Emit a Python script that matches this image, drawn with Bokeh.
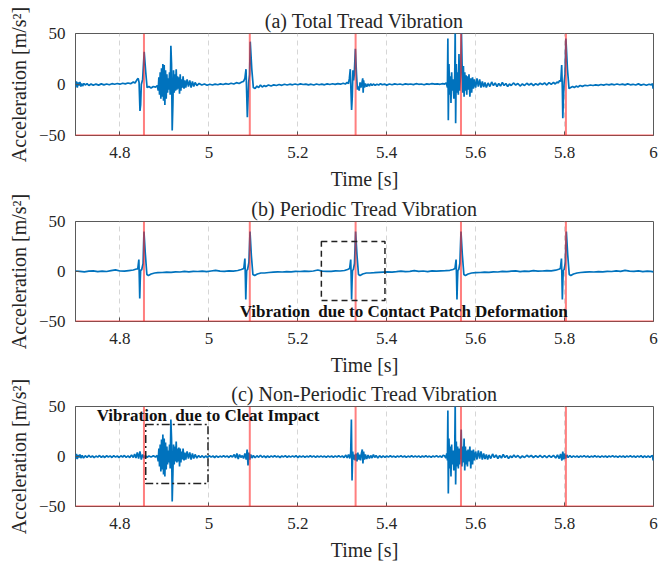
from bokeh.plotting import figure
from bokeh.models import (ColumnDataSource, FixedTicker, CustomJSTickFormatter, Span,
                          BoxAnnotation, Label, Range1d)
from bokeh.layouts import column
from bokeh.embed import file_html
from bokeh.resources import INLINE

# ---------------- data ----------------
titles = ["(a) Total Tread Vibration", "(b) Periodic Tread Vibration",
          "(c) Non-Periodic Tread Vibration"]
x_ticks = [4.8, 5.0, 5.2, 5.4, 5.6, 5.8, 6.0]
y_ticks = [-50, 0, 50]
contact_times = [4.854, 5.092, 5.330, 5.567, 5.803]

# (time [s], acceleration [m/s^2])
trace_total = [
    (4.700, -2), (4.702, 3), (4.704, -3), (4.706, 2), (4.708, -1), (4.710, 2.5), (4.712, -2),
    (4.714, 1), (4.716, -1.5), (4.719, 1), (4.722, -0.5), (4.726, 0.8), (4.730, -1), (4.735, 0.5),
    (4.740, -0.8), (4.746, 0.4), (4.752, -0.6), (4.758, 0.6), (4.764, -0.4), (4.770, 0.5),
    (4.776, -0.3), (4.782, 0.8), (4.788, 0.2), (4.794, 1.0), (4.800, 0.3), (4.806, 1.2),
    (4.812, 0.6), (4.818, 1.5), (4.824, 0.8), (4.830, 2.5), (4.834, 1.5), (4.838, 4.5),
    (4.841, 6), (4.843, 2), (4.845, -26), (4.8465, -20), (4.848, 0), (4.851, 5), (4.8545, 32),
    (4.858, 12), (4.861, -3), (4.865, -2), (4.870, -3.5), (4.875, -2), (4.880, -2.5), (4.884, -1),
    (4.886, -6), (4.8875, 7), (4.889, -10), (4.8905, 12), (4.892, -14), (4.8935, 16), (4.895, -12),
    (4.8965, 20), (4.898, -16), (4.8995, 19), (4.901, -20), (4.9025, 14), (4.904, -14),
    (4.9055, 10), (4.907, -8), (4.9085, 6), (4.910, -5), (4.9115, 12), (4.913, -10), (4.9145, 38),
    (4.916, 20), (4.9175, -45), (4.919, -20), (4.9205, 14), (4.922, -8), (4.9235, 10), (4.925, -6),
    (4.9265, 15), (4.928, -5), (4.9295, 8), (4.931, -4), (4.9325, 7), (4.934, -9), (4.9355, 10),
    (4.937, -6), (4.9385, 5), (4.940, -3), (4.942, 8), (4.944, -4), (4.946, 4), (4.948, -3),
    (4.951, 5), (4.954, -2), (4.957, 4), (4.960, -3), (4.963, 3), (4.966, -2), (4.969, 2),
    (4.973, -1), (4.978, 1), (4.984, -0.5), (4.990, 0.5), (4.996, -0.8), (5.002, 0.2),
    (5.008, -0.5), (5.014, 0.4), (5.020, -0.2), (5.026, 0.6), (5.032, 0), (5.038, 0.8),
    (5.044, 0.2), (5.050, 1.2), (5.056, 0.5), (5.062, 1.8), (5.068, 1.0), (5.074, 2.5),
    (5.078, 3), (5.081, 6), (5.0835, 15), (5.085, -8), (5.0865, -32), (5.088, -15), (5.0895, 2),
    (5.0915, 10), (5.093, 42), (5.0965, 15), (5.100, -3), (5.104, -4), (5.108, -1.5), (5.112, -3),
    (5.116, -0.5), (5.120, -2.5), (5.124, -1), (5.128, -2), (5.134, -0.5), (5.140, -1.5),
    (5.146, -0.3), (5.152, -1), (5.158, 0), (5.164, -0.8), (5.170, 0.2), (5.176, -0.5),
    (5.182, 0.3), (5.188, -0.3), (5.194, 0.5), (5.200, -0.2), (5.206, 0.6), (5.212, 0),
    (5.218, 0.4), (5.224, -0.4), (5.230, 0.3), (5.236, -0.5), (5.242, 0.5), (5.248, -0.2),
    (5.254, 0.4), (5.260, -0.3), (5.266, 0.6), (5.272, 0), (5.278, 0.7), (5.284, 0.1),
    (5.290, 0.9), (5.296, 0.3), (5.302, 1.2), (5.307, 0.5), (5.311, 2), (5.314, 1), (5.316, 6),
    (5.318, 15), (5.3195, -5), (5.321, -25), (5.3225, -12), (5.324, 14), (5.3255, 4), (5.327, 10),
    (5.3295, 35), (5.332, 10), (5.334, -5), (5.336, -2), (5.338, -6), (5.340, 2), (5.342, -3),
    (5.344, 1), (5.346, 6), (5.347, -8), (5.348, 4), (5.350, -3), (5.352, 1), (5.355, -2),
    (5.358, 0.5), (5.361, -1.5), (5.364, 0.8), (5.367, -1), (5.370, 0.5), (5.374, -0.8),
    (5.378, 0.3), (5.382, -0.5), (5.386, 0.8), (5.390, -0.3), (5.395, 0.4), (5.400, -0.6),
    (5.406, 0.5), (5.412, -0.2), (5.418, 0.6), (5.424, 0), (5.430, 0.5), (5.436, -0.2),
    (5.442, 0.6), (5.448, 0.1), (5.454, 0.5), (5.460, -0.1), (5.466, 0.8), (5.472, 0.2),
    (5.478, 0.5), (5.484, -0.2), (5.490, 0.6), (5.496, 0.2), (5.502, 0.9), (5.508, 0.3),
    (5.514, 0.6), (5.520, 0.2), (5.526, 0.8), (5.530, 0.4), (5.534, 1.5), (5.5365, -3),
    (5.5375, 45), (5.5385, -35), (5.540, 20), (5.5415, -10), (5.543, 8), (5.5445, -18),
    (5.546, 12), (5.5475, -6), (5.549, 5), (5.551, -14), (5.553, 10), (5.554, 55), (5.555, -38),
    (5.5565, 20), (5.558, -8), (5.5595, 12), (5.561, -10), (5.5625, 30), (5.564, -6), (5.566, 10),
    (5.568, 52), (5.5695, 20), (5.571, -8), (5.5725, 18), (5.574, -12), (5.5755, 12), (5.577, -6),
    (5.5785, 9), (5.580, -10), (5.5815, 8), (5.583, -5), (5.585, 10), (5.587, -12), (5.589, 6),
    (5.591, -8), (5.593, 7), (5.595, -4), (5.597, 5), (5.600, -3), (5.603, 6), (5.606, -2),
    (5.609, 5), (5.612, -3), (5.615, 3), (5.618, -2.5), (5.621, 2), (5.624, -3), (5.628, 1.5),
    (5.632, -2), (5.636, 2.5), (5.640, -1), (5.644, 1.5), (5.648, -2), (5.652, 1), (5.656, -1.5),
    (5.660, 2), (5.664, -1), (5.668, 1), (5.672, -2), (5.676, 0.5), (5.680, -1), (5.685, 1.5),
    (5.690, -0.5), (5.695, 1), (5.700, -1.5), (5.705, 0.5), (5.710, -1), (5.715, 1.2),
    (5.720, -0.5), (5.725, 1), (5.730, -1), (5.735, 0.8), (5.740, -0.5), (5.745, 1.2), (5.750, 0),
    (5.755, 1.5), (5.760, -0.5), (5.765, 1.8), (5.770, 0.2), (5.775, 2), (5.779, 0.5),
    (5.783, 2.5), (5.786, 1.5), (5.789, 4), (5.7915, 3), (5.7935, 19), (5.795, -5), (5.796, -33),
    (5.7975, -12), (5.799, 2), (5.801, 10), (5.803, 45), (5.8065, 15), (5.810, -4), (5.814, -3),
    (5.818, -2), (5.822, -3), (5.826, -1.5), (5.830, -2.5), (5.835, -1), (5.840, -1.8),
    (5.846, -0.8), (5.852, -1.2), (5.858, -0.5), (5.864, -1), (5.870, -0.3), (5.876, -0.8),
    (5.882, 0), (5.888, -0.6), (5.894, 0.2), (5.900, -0.4), (5.906, 0.3), (5.912, -0.3),
    (5.918, 0.5), (5.924, -0.2), (5.930, 0.4), (5.936, -0.4), (5.942, 0.6), (5.948, -0.3),
    (5.954, 0.2), (5.960, -0.5), (5.966, 0.6), (5.972, -0.6), (5.978, 0.3), (5.984, -0.8),
    (5.990, 0.2), (5.995, -0.4), (5.998, 1), (5.999, -4), (6.000, 0),
]

trace_periodic = [
    (4.700, 0.5), (4.710, 0.2), (4.720, -0.4), (4.730, 0.3), (4.740, 0.6), (4.750, -0.2),
    (4.760, 0.4), (4.770, 0.0), (4.780, 0.8), (4.790, 1.6), (4.800, 0.5), (4.810, 0.3),
    (4.820, 0.9), (4.830, 1.5), (4.837, 2.5),
    (4.840, 2.5), (4.8425, 12), (4.8435, -6), (4.8445, -27), (4.8455, -10), (4.8465, 1),
    (4.849, 2), (4.852, 8), (4.854, 40), (4.857, 18), (4.8605, -3), (4.864, -4), (4.870, -2.5),
    (4.878, -1.5),
    (4.885, -1.2), (4.895, -1), (4.905, -0.6), (4.915, -0.8), (4.925, -0.3), (4.935, -0.5),
    (4.945, 0.1), (4.955, -0.3), (4.965, 0.2), (4.975, 0), (4.985, 0.4), (4.995, -0.2),
    (5.005, 0.5), (5.015, 1.2), (5.025, 0.3), (5.035, 0.1), (5.045, 0.6), (5.055, 0.4),
    (5.065, 1.0), (5.073, 2.0),
    (5.0785, 3), (5.081, 13), (5.082, -5), (5.083, -28), (5.084, -12), (5.085, 1), (5.087, 2),
    (5.090, 9), (5.0925, 40), (5.0955, 16), (5.099, -3), (5.103, -4), (5.109, -2.5), (5.117, -1.5),
    (5.125, -1.5), (5.135, -1), (5.145, -0.7), (5.155, -0.4), (5.165, -0.5), (5.175, -0.1),
    (5.185, -0.3), (5.195, 0.2), (5.205, 0), (5.215, 0.3), (5.225, 0.1), (5.235, 0.5),
    (5.245, 1.5), (5.255, 0.4), (5.265, 0.2), (5.275, 0.1), (5.285, 0.6), (5.295, 0.5),
    (5.305, 1.0), (5.312, 2.0),
    (5.3165, 3), (5.319, 12), (5.320, -5), (5.321, -28), (5.322, -11), (5.323, 1), (5.325, 2),
    (5.3275, 8), (5.330, 40), (5.333, 17), (5.3365, -3), (5.340, -4), (5.346, -2.5), (5.354, -1.5),
    (5.362, -1.5), (5.372, -1.2), (5.382, -0.8), (5.392, -0.6), (5.402, -0.4), (5.412, -0.6),
    (5.422, -0.2), (5.432, 0.4), (5.442, -0.1), (5.452, 0.2), (5.462, 0.8), (5.472, 0.1),
    (5.482, 0.5), (5.492, -0.1), (5.502, 0.6), (5.512, 0.3), (5.522, 0.7), (5.532, 0.9),
    (5.542, 1.2), (5.549, 2.0),
    (5.5535, 3), (5.556, 12), (5.557, -5), (5.558, -28), (5.559, -11), (5.560, 1), (5.562, 2),
    (5.5645, 8), (5.567, 40), (5.570, 17), (5.5735, -3), (5.577, -4), (5.583, -2.5), (5.591, -1.5),
    (5.600, -1.2), (5.610, -1), (5.620, -0.6), (5.630, -0.9), (5.640, -0.3), (5.650, -0.5),
    (5.660, 0.2), (5.670, -0.2), (5.680, 0.3), (5.690, 0.6), (5.700, -0.1), (5.710, 0.4),
    (5.720, 0.2), (5.730, 0.8), (5.740, 0.3), (5.750, 0.5), (5.760, 0.9), (5.770, 0.6),
    (5.780, 1.3), (5.787, 2.2),
    (5.7905, 3), (5.793, 13), (5.794, -5), (5.795, -28), (5.796, -12), (5.797, 1), (5.799, 2),
    (5.8015, 8), (5.804, 40), (5.807, 17), (5.8105, -3), (5.814, -4), (5.820, -2.5), (5.828, -1.5),
    (5.836, -1), (5.846, -0.6), (5.856, -0.4), (5.866, -0.5), (5.876, -0.1), (5.886, -0.3),
    (5.896, 0.2), (5.906, 0), (5.916, 0.6), (5.926, 0.2), (5.936, 1.2), (5.946, 0.3),
    (5.956, 0.1), (5.966, 0.6), (5.976, -0.2), (5.986, 0.4), (5.994, 0.2), (6.000, -0.3),
]

trace_nonperiodic = [
    (4.700, -2), (4.702, 2.5), (4.704, -2.5), (4.706, 1.5), (4.708, -1), (4.710, 2), (4.712, -1.5),
    (4.715, 1), (4.718, -1.5), (4.722, 0.8), (4.726, -1), (4.730, 1.2), (4.734, -0.8), (4.738, 0.6),
    (4.742, -1.2), (4.746, 0.5), (4.750, -0.6), (4.754, 1), (4.758, -0.8), (4.762, 0.5),
    (4.766, -1), (4.770, 0.8), (4.774, -0.5), (4.778, 0.6), (4.782, -1), (4.786, 0.8),
    (4.790, -0.6), (4.794, 0.5), (4.798, -1), (4.802, 0.7), (4.806, -0.5), (4.810, 1),
    (4.814, -0.8), (4.818, 0.6), (4.822, -1), (4.826, 1.5), (4.830, -1), (4.833, 2.5),
    (4.836, -1.5), (4.839, 4), (4.842, -2), (4.845, 5), (4.848, -3), (4.851, 2), (4.854, -1.5),
    (4.857, 1), (4.861, -0.8), (4.865, 0.5), (4.870, -0.6), (4.875, 0.8), (4.880, -0.5),
    (4.884, 1),
    (4.886, -5), (4.8875, 8), (4.889, -10), (4.8905, 12), (4.892, -15), (4.8935, 17), (4.895, -13),
    (4.8965, 22), (4.898, -18), (4.8995, 18), (4.901, -20), (4.9025, 14), (4.904, -13),
    (4.9055, 10), (4.907, -8), (4.9085, 6), (4.910, -6), (4.9115, 12), (4.913, -12), (4.9145, 37),
    (4.916, 18), (4.9175, -45), (4.919, -18), (4.9205, 12), (4.922, -8), (4.9235, 10), (4.925, -5),
    (4.9265, 15), (4.928, -6), (4.9295, 8), (4.931, -5), (4.9325, 9), (4.934, -10), (4.9355, 8),
    (4.937, -6), (4.9385, 5), (4.940, -3), (4.942, 8), (4.944, -4), (4.946, 4), (4.948, -3),
    (4.951, 5), (4.954, -2), (4.957, 4), (4.960, -3), (4.963, 3), (4.966, -2), (4.969, 2),
    (4.973, -1.5), (4.977, 1), (4.981, -1), (4.985, 0.8), (4.989, -1.2), (4.993, 0.6),
    (4.997, -1), (5.001, 0.8), (5.005, -0.6), (5.009, 0.5), (5.013, -1), (5.017, 0.6),
    (5.021, -0.8), (5.025, 0.4), (5.029, -0.6), (5.033, 0.8), (5.037, -0.5), (5.041, 0.6),
    (5.045, -1), (5.049, 0.8), (5.053, -0.5), (5.057, 2), (5.060, -1.5), (5.063, 3),
    (5.066, -2.5), (5.069, 2), (5.072, -1), (5.075, 1), (5.078, -2), (5.081, 3), (5.084, -3),
    (5.086, 7), (5.088, -9), (5.090, 4), (5.092, -3), (5.094, 2), (5.097, -1.5), (5.100, 1),
    (5.104, -1.2), (5.108, 0.8), (5.112, -0.8), (5.116, 1.2), (5.120, -0.8), (5.124, 0.6),
    (5.128, -1), (5.132, 0.5), (5.136, -0.8), (5.140, 0.6), (5.144, -0.5), (5.148, 0.8),
    (5.152, -0.6), (5.156, 0.4), (5.160, -1), (5.164, 0.6), (5.168, -0.4), (5.172, 0.8),
    (5.176, -0.8), (5.180, 0.5), (5.184, -0.6), (5.188, 0.6), (5.192, -0.5), (5.196, 0.8),
    (5.200, -1), (5.204, 0.5), (5.208, -0.4), (5.212, 0.6), (5.216, -0.8), (5.220, 0.4),
    (5.224, -0.6), (5.228, 0.8), (5.232, -0.5), (5.236, 0.6), (5.240, -0.8), (5.244, 0.5),
    (5.248, -0.4), (5.252, 0.6), (5.256, -0.6), (5.260, 0.4), (5.264, -0.8), (5.268, 0.6),
    (5.272, -0.4), (5.276, 0.5), (5.280, -0.8), (5.284, 0.6), (5.288, -0.5), (5.292, 0.8),
    (5.296, -0.6), (5.300, 0.5), (5.304, -1), (5.308, 1.5), (5.311, -1.5), (5.314, 2),
    (5.317, -2), (5.319, 4), (5.3205, 37), (5.322, -24), (5.3235, 5), (5.325, -3), (5.327, 2),
    (5.329, -4), (5.331, 3), (5.333, -5), (5.335, 4), (5.337, -3), (5.339, 2), (5.341, -4),
    (5.343, 3), (5.345, 7), (5.3465, -7), (5.348, 5), (5.350, -3), (5.352, 2), (5.355, -2.5),
    (5.358, 1.5), (5.361, -2), (5.364, 1), (5.367, -1.5), (5.370, 2), (5.373, -1), (5.376, 1),
    (5.380, -1.5), (5.384, 0.8), (5.388, -1), (5.392, 0.6), (5.396, -0.8), (5.400, 0.5),
    (5.404, -0.6), (5.408, 0.8), (5.412, -0.5), (5.416, 0.4), (5.420, -0.8), (5.424, 0.6),
    (5.428, -0.4), (5.432, 0.7), (5.436, -0.6), (5.440, 0.5), (5.444, -0.8), (5.448, 0.4),
    (5.452, -0.5), (5.456, 0.8), (5.460, -0.6), (5.464, 0.5), (5.468, -0.4), (5.472, 0.6),
    (5.476, -0.8), (5.480, 0.5), (5.484, -0.5), (5.488, 0.7), (5.492, -0.6), (5.496, 0.4),
    (5.500, -0.8), (5.504, 0.6), (5.508, -0.4), (5.512, 0.8), (5.516, -0.6), (5.520, 0.5),
    (5.524, -0.8), (5.527, 1.2), (5.530, 0.8), (5.533, -1.5), (5.535, 3), (5.5365, -4),
    (5.5375, 46), (5.5385, -37), (5.540, 18), (5.5415, -12), (5.543, 10), (5.5445, -20),
    (5.546, 12), (5.5475, -8), (5.549, 6), (5.551, -14), (5.553, 8), (5.554, 55), (5.555, -28),
    (5.5565, 15), (5.558, -10), (5.5595, 10), (5.561, -12), (5.5625, 8), (5.564, -8), (5.566, 6),
    (5.5675, 27), (5.569, -10), (5.571, 10), (5.5725, -6), (5.574, 18), (5.5755, -14), (5.577, 10),
    (5.5785, -8), (5.580, 6), (5.5815, -10), (5.583, 7), (5.585, -5), (5.587, 10), (5.589, -12),
    (5.591, 6), (5.593, -8), (5.595, 7), (5.597, -4), (5.600, 5), (5.603, -3), (5.606, 6),
    (5.609, -2), (5.612, 5), (5.615, -3), (5.618, 3), (5.621, -2.5), (5.624, 2), (5.627, -3),
    (5.630, 1.5), (5.634, -2), (5.638, 2.5), (5.642, -1), (5.646, 1.5), (5.650, -2), (5.654, 1),
    (5.658, -1.5), (5.662, 2), (5.666, -1), (5.670, 1), (5.674, -2), (5.678, 0.5), (5.682, -1),
    (5.686, 1.5), (5.690, -0.8), (5.695, 1), (5.700, -1.5), (5.705, 0.5), (5.710, -1),
    (5.715, 1.2), (5.720, -0.5), (5.725, 1), (5.730, -1), (5.735, 0.8), (5.740, -0.8),
    (5.745, 1.2), (5.750, -1), (5.755, 0.8), (5.760, -1.2), (5.765, 1), (5.770, -0.8),
    (5.775, 1.2), (5.780, -1.5), (5.784, 1.5), (5.788, -2), (5.791, 2.5), (5.794, -4), (5.796, 5),
    (5.798, -3), (5.800, 3), (5.802, -2), (5.805, 1.5), (5.808, -1), (5.812, 1), (5.816, -0.8),
    (5.820, 0.6), (5.824, -0.6), (5.828, 0.5), (5.832, -0.8), (5.836, 0.6), (5.840, -0.4),
    (5.844, 0.8), (5.848, -0.6), (5.852, 0.5), (5.856, -0.8), (5.860, 0.4), (5.864, -0.5),
    (5.868, 0.8), (5.872, -0.6), (5.876, 0.4), (5.880, -0.8), (5.884, 0.6), (5.888, -0.5),
    (5.892, 0.5), (5.896, -0.7), (5.900, 0.6), (5.904, -0.4), (5.908, 0.8), (5.912, -0.6),
    (5.916, 0.4), (5.920, -0.8), (5.924, 0.6), (5.928, -0.5), (5.932, 0.5), (5.936, -0.8),
    (5.940, 0.6), (5.944, -0.4), (5.948, 0.7), (5.952, -0.6), (5.956, 0.5), (5.960, -0.8),
    (5.964, 0.6), (5.968, -0.5), (5.972, 0.8), (5.976, -1), (5.980, 0.6), (5.984, -0.8),
    (5.988, 0.5), (5.992, -0.8), (5.995, 0.4), (5.998, 1), (5.999, -4), (6.000, 0),
]

contact_note = "Vibration\u00a0\u00a0due to Contact Patch Deformation"
cleat_note = "Vibration\u00a0\u00a0due to Cleat Impact"
contact_box = dict(left=5.253, right=5.396, bottom=-29, top=30)
cleat_box = dict(left=4.858, right=4.998, bottom=-27, top=32)
contact_note_pos = (5.438, -40)
cleat_note_pos = (4.998, 41)

# ---------------- style ----------------
SERIF = "Liberation Serif"
TXT = "#262626"
BLUE = "#0072BD"

def make_panel(title, trace, height, top):
    p = figure(width=658, height=height, output_backend="svg", toolbar_location=None,
               x_range=Range1d(4.7, 6.0), y_range=Range1d(-50, 50),
               min_border_left=75, min_border_right=5, min_border_top=top,
               min_border_bottom=height - top - 102)
    p.title.text = title
    p.title.align = "center"
    p.title.text_font = SERIF
    p.title.text_font_size = "20px"
    p.title.text_font_style = "normal"
    p.title.text_color = TXT
    p.title.standoff = 3
    p.title.offset = 0

    t = [pt[0] for pt in trace]
    a = [pt[1] for pt in trace]
    src = ColumnDataSource(dict(t=t, a=a))
    p.line("t", "a", source=src, line_color=BLUE, line_width=1.7)

    for ct in contact_times:
        p.add_layout(Span(location=ct, dimension="height", line_color="#ff2a2a",
                          line_alpha=0.6, line_width=2))
    p.add_layout(Span(location=-50, dimension="width", line_color="#ff2a2a",
                      line_alpha=0.7, line_width=2))

    p.xaxis.ticker = FixedTicker(ticks=x_ticks)
    p.xaxis.formatter = CustomJSTickFormatter(code="return String(Math.round(tick*10)/10);")
    p.yaxis.ticker = FixedTicker(ticks=y_ticks)
    p.xgrid.ticker = FixedTicker(ticks=x_ticks[:-1])
    p.xgrid.grid_line_color = "#d6d6d6"
    p.xgrid.grid_line_dash = "5 4"
    p.ygrid.grid_line_color = None

    for ax in (p.xaxis[0], p.yaxis[0]):
        ax.major_label_text_font = SERIF
        ax.major_label_text_font_size = "17px"
        ax.major_label_text_color = TXT
        ax.axis_label_text_font = SERIF
        ax.axis_label_text_font_size = "20px"
        ax.axis_label_text_font_style = "normal"
        ax.axis_label_text_color = TXT
        ax.axis_line_color = None
        ax.major_tick_in = 4
        ax.major_tick_out = 0
        ax.major_tick_line_color = "#555555"
        ax.minor_tick_line_color = None
    p.xaxis.axis_label = "Time [s]"
    p.xaxis.major_label_standoff = 11
    p.xaxis.axis_label_standoff = 7
    p.yaxis.axis_label = "Acceleration [m/s²]"
    p.yaxis.major_label_standoff = 10
    p.yaxis.axis_label_standoff = 6

    p.outline_line_color = "#5a5a5a"
    p.outline_line_width = 1
    p.background_fill_color = "white"
    p.border_fill_color = "white"
    return p

pa = make_panel(titles[0], trace_total, 194, 33)
pb = make_panel(titles[1], trace_periodic, 185, 25)
pc = make_panel(titles[2], trace_nonperiodic, 188, 25)

pb.add_layout(BoxAnnotation(fill_alpha=0, line_color="#222222", line_alpha=1.0, line_width=1.5,
                            line_dash="6 4", **contact_box))
pb.add_layout(Label(x=contact_note_pos[0], y=contact_note_pos[1], text=contact_note,
                    text_align="center", text_baseline="middle", text_font=SERIF,
                    text_font_style="bold", text_font_size="17px", text_color="#111111"))

pc.add_layout(BoxAnnotation(fill_alpha=0, line_color="#222222", line_alpha=1.0, line_width=1.5,
                            line_dash="8 3 2 3", **cleat_box))
pc.add_layout(Label(x=cleat_note_pos[0], y=cleat_note_pos[1], text=cleat_note,
                    text_align="center", text_baseline="middle", text_font=SERIF,
                    text_font_style="bold", text_font_size="17px", text_color="#111111"))

layout = column(pa, pb, pc, spacing=0)
open("out.html", "w").write(file_html(layout, INLINE))
